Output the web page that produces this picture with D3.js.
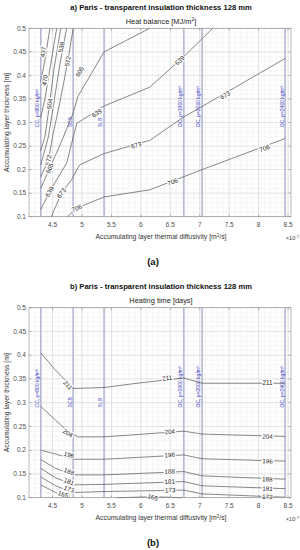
<!DOCTYPE html>
<html>
<head>
<meta charset="utf-8">
<script src="https://cdn.jsdelivr.net/npm/d3@7"></script>
<style>
  body { margin: 0; background: #fff; }
  text { font-family: "Liberation Sans", Arial, sans-serif; }
</style>
</head>
<body>
<svg id="chart" width="300" height="550"></svg>
<script>
// ---------------- data ----------------
const materials = ["CC, ρ=800 kg/m³", "SCB", "SLB", "OC, ρ=1900 kg/m³", "OC, ρ=2000 kg/m³", "OC, ρ=2400 kg/m³"];
const diffusivity = [4.30, 4.85, 5.375, 6.73, 7.04, 8.45]; // x 10^-7 m2/s
const xTicks = [4.5, 5, 5.5, 6, 6.5, 7, 7.5, 8, 8.5];
const yTicks = [0.1, 0.15, 0.2, 0.25, 0.3, 0.35, 0.4, 0.45, 0.5];

// a) heat balance contours [MJ/m2]
const heatLevels = [437, 470, 504, 538, 572, 605, 639, 673, 706];
const heatLines = [
  [[4.455, 0.5], [4.38, 0.44], [4.30, 0.385]],
  [[4.57, 0.5], [4.45, 0.41], [4.37, 0.35], [4.30, 0.31]],
  [[4.64, 0.5], [4.52, 0.41], [4.44, 0.33], [4.37, 0.27], [4.30, 0.24]],
  [[4.74, 0.5], [4.62, 0.42], [4.52, 0.34], [4.43, 0.27], [4.30, 0.21]],
  [[4.85, 0.5], [4.76, 0.43], [4.62, 0.34], [4.50, 0.27], [4.43, 0.22], [4.30, 0.185]],
  [[6.15, 0.5], [5.375, 0.45], [4.93, 0.355], [4.85, 0.32], [4.62, 0.25], [4.45, 0.203], [4.30, 0.16]],
  [[7.22, 0.5], [6.73, 0.44], [6.15, 0.375], [5.375, 0.335], [4.91, 0.298], [4.74, 0.214], [4.45, 0.153], [4.30, 0.115]],
  [[8.45, 0.436], [7.04, 0.334], [6.73, 0.312], [6.15, 0.262], [5.375, 0.234], [4.96, 0.21], [4.82, 0.178], [4.65, 0.15], [4.48, 0.1]],
  [[8.45, 0.266], [7.04, 0.2], [6.73, 0.185], [6.15, 0.157], [5.375, 0.142], [4.91, 0.118], [4.75, 0.1]]
];
const heatLabels = [
  [[4.34, 0.45]],
  [[4.37, 0.39]],
  [[4.45, 0.34]],
  [[4.65, 0.46]],
  [[4.76, 0.43], [4.43, 0.22]],
  [[4.96, 0.408], [4.45, 0.203]],
  [[5.25, 0.32], [6.66, 0.432], [4.45, 0.153]],
  [[4.65, 0.15], [5.92, 0.252], [7.43, 0.358]],
  [[4.91, 0.118], [6.54, 0.174], [8.1, 0.245]]
];

// b) heating time contours [days]
const timeLevels = [165, 173, 181, 188, 196, 204, 211];
const timeLines = [
  [[4.30, 0.127], [4.6, 0.108], [4.8, 0.1]],
  [[4.30, 0.144], [4.55, 0.125], [4.85, 0.111], [5.375, 0.113], [6.73, 0.116], [7.04, 0.108], [8.45, 0.101]],
  [[4.30, 0.162], [4.55, 0.142], [4.85, 0.127], [5.375, 0.128], [6.73, 0.134], [7.04, 0.125], [8.45, 0.119]],
  [[4.30, 0.18], [4.55, 0.162], [4.85, 0.148], [5.375, 0.148], [6.73, 0.155], [7.04, 0.146], [8.45, 0.139]],
  [[4.30, 0.2], [4.55, 0.192], [4.85, 0.181], [5.375, 0.181], [6.73, 0.19], [7.04, 0.182], [8.45, 0.177]],
  [[4.30, 0.292], [4.51, 0.268], [4.74, 0.242], [4.93, 0.228], [5.375, 0.228], [6.73, 0.24], [7.04, 0.234], [8.45, 0.229]],
  [[4.30, 0.405], [4.54, 0.37], [4.85, 0.33], [5.375, 0.332], [6.0, 0.342], [6.73, 0.352], [7.04, 0.341], [8.45, 0.341]]
];
const timeExtra = [[[5.6, 0.1], [6.2, 0.102], [6.7, 0.1]]]; // second piece of the 165 contour
const timeLabels = [
  [[4.68, 0.107], [6.2, 0.101]],
  [[4.78, 0.118], [6.5, 0.116], [8.15, 0.102]],
  [[4.78, 0.134], [6.49, 0.134], [8.15, 0.119]],
  [[4.78, 0.155], [6.49, 0.155], [8.15, 0.139]],
  [[4.78, 0.19], [6.49, 0.19], [8.15, 0.177]],
  [[4.76, 0.236], [6.49, 0.239], [8.15, 0.229]],
  [[4.76, 0.337], [6.45, 0.352], [8.15, 0.341]]
];

// ---------------- layout ----------------
const svg = d3.select("#chart");
const left = 29, right = 291;

const panels = [
  { top: 28.3, bottom: 216.7, title: "a) Paris - transparent insulation thickness 128 mm",
    sub: "Heat balance [MJ/m", subEnd: "]", levels: heatLevels, lines: heatLines, extra: [], labels: heatLabels, tag: "(a)" },
  { top: 307.7, bottom: 497.7, title: "b) Paris - transparent insulation thickness 128 mm",
    sub: "Heating time [days]", subEnd: null, levels: timeLevels, lines: timeLines, extra: timeExtra, labels: timeLabels, tag: "(b)" }
];

panels.forEach(p => drawPanel(p));

function drawPanel(p) {
  const x = d3.scaleLinear().domain([4.1, 8.55]).range([left, right]);
  const y = d3.scaleLinear().domain([0.1, 0.5]).range([p.bottom, p.top]);
  const g = svg.append("g");

  //------------- grid -------------
  const minorX = d3.range(42, 86).map(d => d / 10);
  const minorY = d3.range(10, 51).map(d => d / 100);
  g.selectAll(".mx").data(minorX).join("line")
    .attr("x1", d => x(d)).attr("x2", d => x(d))
    .attr("y1", p.top).attr("y2", p.bottom)
    .attr("stroke", "#ececec").attr("stroke-width", 0.5);
  g.selectAll(".my").data(minorY).join("line")
    .attr("x1", left).attr("x2", right)
    .attr("y1", d => y(d)).attr("y2", d => y(d))
    .attr("stroke", "#ececec").attr("stroke-width", 0.5);
  g.selectAll(".gx").data(xTicks).join("line")
    .attr("x1", d => x(d)).attr("x2", d => x(d))
    .attr("y1", p.top).attr("y2", p.bottom)
    .attr("stroke", "#d6d6d6").attr("stroke-width", 0.6);
  g.selectAll(".gy").data(yTicks).join("line")
    .attr("x1", left).attr("x2", right)
    .attr("y1", d => y(d)).attr("y2", d => y(d))
    .attr("stroke", "#d6d6d6").attr("stroke-width", 0.6);

  //------------- material lines -------------
  g.selectAll(".mat").data(diffusivity).join("line")
    .attr("x1", d => x(d)).attr("x2", d => x(d))
    .attr("y1", p.top).attr("y2", p.bottom)
    .attr("stroke", "#b4b8d2").attr("stroke-width", 1.6);

  g.selectAll(".matLabel").data(diffusivity).join("text")
    .attr("transform", d => `translate(${x(d) - 1.6},${y(0.29)}) rotate(-90)`)
    .attr("font-size", 5)
    .attr("fill", "#3b3bc4")
    .text((d, i) => materials[i]);

  //------------- contours -------------
  const line = d3.line().x(d => x(d[0])).y(d => y(d[1]));
  g.selectAll(".cont").data(p.lines.concat(p.extra)).join("path")
    .attr("d", line)
    .attr("fill", "none")
    .attr("stroke", "#555").attr("stroke-width", 0.7);

  p.labels.forEach((labs, i) => {
    const pts = p.lines[i].map(d => [x(d[0]), y(d[1])]);
    labs.forEach(l => {
      const lx = x(l[0]), ly = y(l[1]);
      const ang = segAngle(pts, lx, ly);
      g.append("text")
        .attr("transform", `translate(${lx},${ly}) rotate(${ang})`)
        .attr("text-anchor", "middle")
        .attr("dy", "0.35em")
        .attr("font-size", 6.3)
        .attr("fill", "#222")
        .attr("stroke", "#fff").attr("stroke-width", 2.4)
        .attr("paint-order", "stroke")
        .text(p.levels[i]);
    });
  });

  //------------- axes box and ticks -------------
  g.append("rect")
    .attr("x", left).attr("y", p.top)
    .attr("width", right - left).attr("height", p.bottom - p.top)
    .attr("fill", "none").attr("stroke", "#8c8c8c").attr("stroke-width", 0.6);

  xTicks.forEach(t => {
    g.append("line").attr("x1", x(t)).attr("x2", x(t)).attr("y1", p.bottom).attr("y2", p.bottom - 2.5)
      .attr("stroke", "#8c8c8c").attr("stroke-width", 0.6);
    g.append("line").attr("x1", x(t)).attr("x2", x(t)).attr("y1", p.top).attr("y2", p.top + 2.5)
      .attr("stroke", "#8c8c8c").attr("stroke-width", 0.6);
  });
  yTicks.forEach(t => {
    g.append("line").attr("x1", left).attr("x2", left + 2.5).attr("y1", y(t)).attr("y2", y(t))
      .attr("stroke", "#8c8c8c").attr("stroke-width", 0.6);
    g.append("line").attr("x1", right).attr("x2", right - 2.5).attr("y1", y(t)).attr("y2", y(t))
      .attr("stroke", "#8c8c8c").attr("stroke-width", 0.6);
  });

  g.selectAll(".xt").data(xTicks).join("text")
    .attr("x", d => x(d)).attr("y", p.bottom + 10)
    .attr("text-anchor", "middle").attr("font-size", 6.5).attr("fill", "#4d4d4d")
    .text(d => d);
  g.selectAll(".yt").data(yTicks).join("text")
    .attr("x", left - 3).attr("y", d => y(d)).attr("dy", "0.35em")
    .attr("text-anchor", "end").attr("font-size", 6.5).attr("fill", "#4d4d4d")
    .text(d => d);

  //------------- titles and labels -------------
  const cx = (left + right) / 2 + 1;
  g.append("text").attr("x", cx).attr("y", p.top - 18.6)
    .attr("text-anchor", "middle").attr("font-size", 7.6).attr("font-weight", "bold").attr("fill", "#111")
    .text(p.title);

  const sub = g.append("text").attr("x", cx).attr("y", p.top - 4.6)
    .attr("text-anchor", "middle").attr("font-size", 7.4).attr("fill", "#222");
  sub.append("tspan").text(p.sub);
  if (p.subEnd) {
    sub.append("tspan").attr("dy", -2.8).attr("font-size", 5).text("2");
    sub.append("tspan").attr("dy", 2.8).text(p.subEnd);
  }

  const xl = g.append("text").attr("x", cx).attr("y", p.bottom + 22.6)
    .attr("text-anchor", "middle").attr("font-size", 6.8).attr("fill", "#333");
  xl.append("tspan").text("Accumulating layer thermal diffusivity [m");
  xl.append("tspan").attr("dy", -2.6).attr("font-size", 4.6).text("2");
  xl.append("tspan").attr("dy", 2.6).text("/s]");

  const ex = g.append("text").attr("x", 299).attr("y", p.bottom + 23.6)
    .attr("text-anchor", "end").attr("font-size", 5.6).attr("fill", "#444");
  ex.append("tspan").text("×10");
  ex.append("tspan").attr("dy", -2.4).attr("font-size", 4.2).text("-7");

  g.append("text")
    .attr("transform", `translate(9,${(p.top + p.bottom) / 2}) rotate(-90)`)
    .attr("text-anchor", "middle").attr("font-size", 6.8).attr("fill", "#333")
    .text("Accumulating layer thickness [m]");

  g.append("text").attr("x", 153).attr("y", p.bottom + 48)
    .attr("text-anchor", "middle").attr("font-size", 9.5).attr("font-weight", "bold")
    .attr("font-family", "Liberation Serif, Times New Roman, serif").attr("fill", "#111")
    .text(p.tag);
}

// angle (deg) of the polyline segment closest to a label point
function segAngle(pts, px, py) {
  let best = Infinity, ang = 0;
  for (let i = 0; i < pts.length - 1; i++) {
    const [x1, y1] = pts[i], [x2, y2] = pts[i + 1];
    const dx = x2 - x1, dy = y2 - y1;
    const t = Math.max(0, Math.min(1, ((px - x1) * dx + (py - y1) * dy) / (dx * dx + dy * dy)));
    const d = Math.hypot(x1 + t * dx - px, y1 + t * dy - py);
    if (d < best) { best = d; ang = Math.atan2(dy, dx) * 180 / Math.PI; }
  }
  if (ang > 90) ang -= 180;
  if (ang < -90) ang += 180;
  return ang;
}
</script>
</body>
</html>
